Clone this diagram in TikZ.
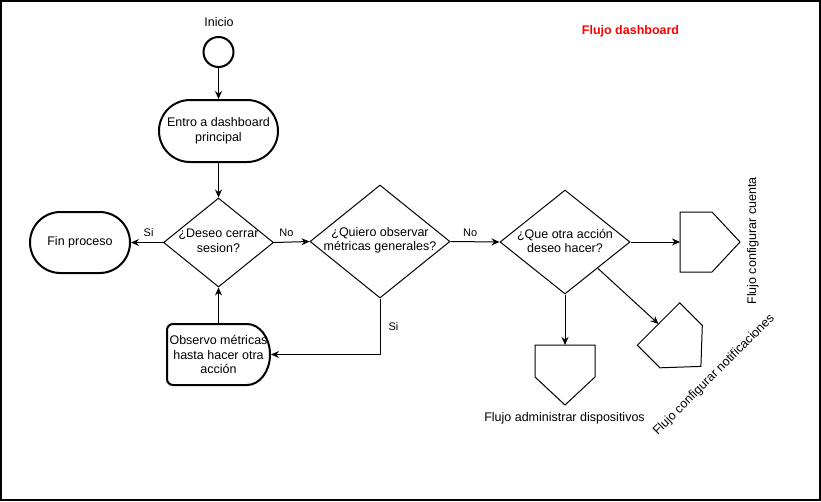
\documentclass[tikz,border=0pt]{standalone}
\usepackage{fontspec}
\setmainfont{Liberation Sans}
\usetikzlibrary{shapes.geometric, arrows.meta, calc}
\begin{document}
\begin{tikzpicture}[x=1pt,y=-1pt,
  every node/.style={font=\fontsize{12.5}{14.5}\selectfont, inner sep=0pt, align=center},
  term/.style={draw, line width=2pt, rectangle, rounded corners=31pt},
  dec/.style={draw, line width=1pt, diamond},
  lab/.style={font=\fontsize{11}{13}\selectfont},
  conn/.style={line width=1pt, -{Stealth[length=8pt,width=7pt]}},
  thinshape/.style={line width=1pt, line join=miter}
]
\useasboundingbox (0,0) rectangle (821,501);
\draw[line width=1.5pt] (1,1) rectangle (820,500);

\node[font=\bfseries\fontsize{12.5}{14}\selectfont, text=red] (title) at (630.5,31) {Flujo dashboard};

\node (tinicio) at (219,22) {Inicio};
\node[draw, circle, line width=2pt, minimum size=30pt] (start) at (218.5,52) {};
\node[term, minimum width=119pt, minimum height=62pt] (entro) at (218.5,131) {Entro a dashboard\\principal};

\node[dec, minimum width=110pt, minimum height=89pt] (d1) at (218.5,242.5) {};
\node (td1) at (218.5,241) {¿Deseo cerrar\\sesion?};

\node[term, minimum width=100pt, minimum height=61pt, rounded corners=30.5pt] (fin) at (80,242.5) {Fin proceso};

\node[dec, minimum width=140pt, minimum height=113pt] (d2) at (380,241.5) {};
\node (td2) at (380,240.5) {¿Quiero observar\\métricas generales?};

\node[dec, minimum width=130pt, minimum height=104pt] (d3) at (565,242) {};
\node (td3) at (565,241) {¿Que otra acción\\deseo hacer?};

% Observo (delay shape)
\node[minimum width=103pt, minimum height=61pt, outer sep=1pt] (obs) at (218.5,354.5) {Observo métricas\\hasta hacer otra\\acción};
\draw[line width=2pt] (247,324) -- (173,324)
  arc[start angle=270, end angle=180, radius=6] -- (167,379)
  arc[start angle=180, end angle=90, radius=6] -- (247,385)
  arc[start angle=90, end angle=-90, x radius=23, y radius=30.5] -- cycle;

% off-page connectors
\coordinate (p1back) at (680,242);
\draw[thinshape] (680,212) -- (712,212) -- (740,242) -- (712,272) -- (680,272) -- cycle;
\coordinate (p2top) at (565,345);
\draw[thinshape] (535,345) -- (595,345) -- (595,377) -- (565,405) -- (535,377) -- cycle;
\coordinate (p3back) at (658.5,324);
\draw[thinshape] (679.7,302.8) -- (702.3,325.4) -- (700.9,366.4) -- (659.9,367.8) -- (637.3,345.2) -- cycle;

\node[rotate=90] (tcuenta) at (753,241) {Flujo configurar cuenta};
\node[rotate=45] (tnotif) at (714,375) {Flujo configurar notificaciones};
\node (tdisp) at (564.5,418) {Flujo administrar dispositivos};

% connectors
\draw[conn] (start) -- (entro);
\draw[conn] (entro) -- (d1);
\draw[conn] (d1.west) -- (fin.east) node[lab, pos=0.45, above=5pt] (lsi1) {Si};
\draw[conn] (d1.east) -- (d2.west) node[lab, pos=0.35, above=5pt] (lno1) {No};
\draw[conn] (d2.east) -- (d3.west) node[lab, pos=0.4, above=5pt] (lno2) {No};
\draw[conn] (d2.south) |- (obs.east) node[lab, pos=0.25, right=8pt] (lsi2) {Si};
\draw[conn] (obs.north) -- (d1.south);
\draw[conn] (d3.east) -- (p1back);
\draw[conn] (d3.south) -- (p2top);
\draw[conn] (d3.south east) -- (p3back);
\end{tikzpicture}
\end{document}
